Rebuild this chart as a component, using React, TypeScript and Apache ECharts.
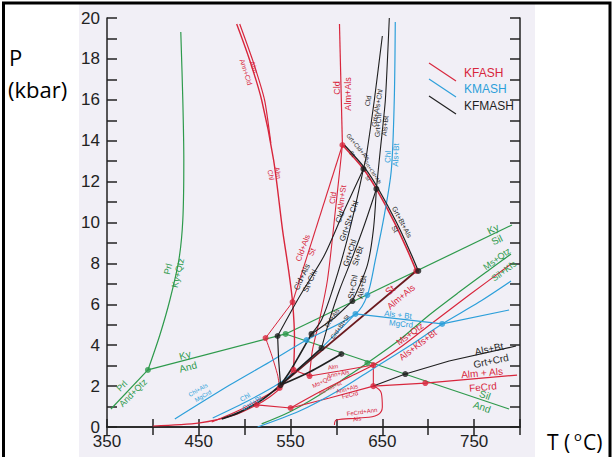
import React, { useEffect, useRef } from "react";
import * as echarts from "echarts";

// ---- axis ranges / ticks ----
const T_MIN = 350;
const T_MAX = 800;
const T_STEP = 50;
const P_MIN = 0;
const P_MAX = 20;
const P_STEP = 1;

// ---- GREEN (Al2SiO5, pyrophyllite, muscovite) [T °C, P kbar] ----
const prlKyQtz = [[430.4, 19.32], [432.6, 15.99], [433.7, 13.06], [432.6, 10.12], [428.3, 8.17], [418.5, 6.21], [407.6, 4.5], [394.6, 2.79]];
const prlAndQtz = [[394.6, 2.79], [354.3, 0.88]];
const kyAnd = [[394.6, 2.79], [544.6, 4.55]];
const kySil = [[544.6, 4.55], [791.3, 9.88]];
const silAnd = [[544.6, 4.55], [788.1, 0.88]];
const msQtzSilKfs = [[518.5, 0.15], [548.9, 0.73], [581.5, 1.56], [614.1, 2.54], [633.7, 3.13], [668.5, 4.25], [701.1, 5.48], [733.7, 6.6], [766.3, 7.68], [790.2, 8.46]];
const greenPoints = [[394.6, 2.79], [544.6, 4.55], [633.7, 3.13]];

// ---- RED (KFASH) ----
const almChl = [[491.3, 19.71], [505.4, 17.95], [518.5, 15.99], [531.5, 13.06], [541.3, 9.63], [547.8, 7.68], [552.2, 6.11], [554.3, 4.25], [553.3, 2.79]];
const almAnnCld = [[494.6, 19.71], [508.6, 17.95], [521.7, 15.99], [528.5, 13.89]];
const cldAlmAls = [[603.3, 19.71], [606.5, 13.79]];
const cldAlmSt = [[606.5, 13.79], [598.9, 10.61], [590.2, 7.19], [581.5, 5.23], [573.9, 3.77], [570.7, 2.49]];
const cldAlsSt = [[606.5, 13.79], [552.2, 6.11]];
const grtCldAlsSt = [[606.5, 13.79], [629.4, 12.62], [643.5, 11.64], [663.0, 10.02], [677.2, 8.66], [687.0, 7.63]];
const stAlmAls = [[687.0, 7.63], [539.1, 2.05]];
const redDiamondUp = [[522.8, 4.35], [552.2, 6.11]];
const redDiamondDown = [[522.8, 4.35], [529.4, 3.52], [535.9, 2.54], [538.1, 1.91]];
const almAnnAls = [[553.3, 2.79], [570.7, 2.49], [603.3, 2.74], [640.2, 3.03]];
const redVertical = [[640.2, 3.03], [640.2, 2.0]];
const almAlsFeCrd = [[513.0, 1.08], [550.0, 0.93], [592.4, 1.42], [640.2, 2.0], [696.8, 2.15], [796.8, 2.54]];
const feCrdAnnAls = [[640.2, 2.0], [648.9, 1.66], [650.0, 0.98], [644.6, 0.59], [625.0, 0.44], [600.0, 0.34], [597.8, 0.1]];
const msQtzAlsKfsBt = [[550.0, 0.93], [581.5, 1.71], [614.1, 2.45], [640.2, 3.03], [668.5, 3.86], [704.4, 5.09], [744.6, 6.45], [790.2, 7.97]];
const redLowA = [[400.0, 0.05], [451.1, 0.2], [489.1, 0.59], [513.0, 1.08], [527.2, 1.47], [539.1, 1.91], [553.3, 2.79]];
const redLowB = [[464.1, 0.24], [494.6, 0.83], [518.5, 1.42], [538.1, 1.91]];
const redPoints = [[606.5, 13.79], [552.2, 6.11], [522.8, 4.35], [687.0, 7.63], [553.3, 2.79], [570.7, 2.49], [538.1, 1.91], [513.0, 1.08], [550.0, 0.93], [640.2, 3.03], [640.2, 2.0], [696.8, 2.15]];

// ---- BLUE (KMASH) ----
const chlAlsBt = [[423.9, 0.39], [483.7, 2.05], [527.2, 3.18], [567.4, 4.25], [620.7, 5.53], [633.7, 6.45], [642.4, 8.17], [652.2, 10.37], [659.8, 12.57], [663.0, 15.99], [664.1, 19.8]];
const chlCrdBt = [[465.2, 0.44], [505.4, 1.32], [538.1, 2.15], [559.8, 2.89], [581.5, 3.77], [603.3, 4.74], [620.7, 5.53]];
const alsBtMgCrd = [[620.7, 5.53], [715.2, 5.04], [788.1, 5.72]];
const msQtzBlue = [[514.1, 0.0], [559.8, 0.78], [603.3, 1.81], [641.3, 2.89], [679.3, 3.96], [715.2, 5.04], [755.4, 6.11], [790.2, 7.14]];
const bluePoints = [[567.4, 4.25], [620.7, 5.53], [633.7, 6.45], [715.2, 5.04]];

// ---- BLACK (KFMASH) ----
const cldGrtAlsChl = [[650.0, 19.12], [641.3, 15.99], [632.6, 13.25], [629.4, 12.62]];
const grtChlAlsBt = [[657.6, 20.0], [653.3, 15.99], [647.8, 13.55], [643.5, 11.64]];
const grtCldAlsStK = [[608.7, 13.79], [631.6, 12.62], [645.7, 11.64], [665.2, 10.02], [679.4, 8.66], [689.2, 7.63]];
const cldAlsStChl = [[629.4, 12.62], [608.7, 10.61], [587.0, 8.41], [570.7, 7.19], [557.6, 6.21], [535.9, 4.45]];
const blackDrop = [[535.9, 4.45], [537.0, 3.28], [539.1, 2.05]];
const cldGrtStChl = [[629.4, 12.62], [619.6, 10.61], [608.7, 8.66], [595.7, 6.7], [583.7, 5.23], [572.8, 4.55]];
const grtChlStBt = [[643.5, 11.64], [630.4, 9.88], [616.3, 8.17], [603.3, 6.7], [592.4, 5.23], [583.7, 3.86]];
const stChlAlsBt = [[643.5, 11.64], [640.2, 9.63], [633.7, 7.92], [617.4, 6.16]];
const chlAlsCrdBtSt = [[617.4, 6.16], [597.8, 5.33], [572.8, 4.55]];
const blackLow1 = [[572.8, 4.55], [559.8, 3.52], [548.9, 2.69], [539.1, 2.05]];
const blackLow2 = [[583.7, 3.86], [559.8, 2.89], [539.1, 2.05]];
const blackLow3 = [[605.4, 3.57], [570.7, 2.69], [539.1, 2.05]];
const chlCrdBtK = [[539.1, 2.05], [518.5, 1.32], [494.6, 0.73], [475.0, 0.39]];
const alsBtGrtCrd = [[640.2, 2.0], [675.0, 2.59], [722.8, 3.23], [795.7, 3.96]];
const blackPoints = [[629.4, 12.62], [643.5, 11.64], [689.2, 7.63], [535.9, 4.45], [572.8, 4.55], [583.7, 3.86], [605.4, 3.57], [617.4, 6.16], [539.1, 2.05], [675.0, 2.59]];

// ---- legend entries ----
const legendNames = ["KFASH", "KMASH", "KFMASH"];

const GREEN = "#2e9a4c";
const RED = "#d8263c";
const BLUE = "#2c9fda";
const BLACK = "#1f1f1f";
const DARKRED = "#6a1a1e";

// annotation labels: text, x, y (px), rotation (deg), color, font size
const labels: [string, number, number, number, string, number][] = [
  ["Prl", 168, 269, 77, GREEN, 9], ["Ky+Qtz", 178, 273, 77, GREEN, 9],
  ["Ky", 185, 355, 15, GREEN, 10], ["And", 188, 367, 15, GREEN, 10],
  ["Prl", 122, 386, 45, GREEN, 9], ["And+Qtz", 133, 393, 45, GREEN, 9],
  ["Ky", 493, 229, 26, GREEN, 10], ["Sil", 497, 240, 26, GREEN, 10],
  ["Ms+Qtz", 497, 259, 36, GREEN, 9], ["Sil+Kfs", 504, 271, 36, GREEN, 9],
  ["Sil", 485, 395, -19, GREEN, 10], ["And", 482, 407, -19, GREEN, 10],
  ["Alm", 254, 67, -72, RED, 7], ["Ann+Cld", 246, 72, -72, RED, 7],
  ["Alm", 278, 173, -80, RED, 7], ["Chl", 271, 175, -80, RED, 7],
  ["Cld", 337, 88, 90, RED, 9], ["Alm+Als", 348, 94, 90, RED, 9],
  ["Cld", 333, 198, 82, RED, 8], ["Alm+St", 342, 198, 82, RED, 8],
  ["Cld+Als", 303, 248, 70, RED, 8], ["St", 312, 252, 70, RED, 8],
  ["St", 390, 290, 40, RED, 10], ["Alm+Als", 401, 297, 40, RED, 9],
  ["Ms+Qtz", 410, 334, 37, RED, 9], ["Als+Kfs+Bt", 418, 345, 37, RED, 9],
  ["Alm + Als", 482, 373, 5, RED, 10], ["FeCrd", 483, 387, 5, RED, 10],
  ["Alm", 333, 367, 10, RED, 6], ["Ann+Als", 338, 374, 10, RED, 6],
  ["Ms+Qtz", 322, 382, 25, RED, 6], ["Als+Kfs+Bt", 330, 388, 25, RED, 5],
  ["Ann+Als", 347, 389, 15, RED, 6], ["FeCrd", 350, 395, 15, RED, 6],
  ["FeCrd+Ann", 362, 412, 8, RED, 6], ["Als", 357, 419, 8, RED, 6],
  ["Chl", 388, 157, 88, BLUE, 8], ["Als+Bt", 396, 155, 88, BLUE, 8],
  ["Als + Bt", 398, 315, -6, BLUE, 8], ["MgCrd", 401, 324, -6, BLUE, 8],
  ["Chl+Als", 198, 390, 30, BLUE, 6], ["MgCrd", 203, 396, 30, BLUE, 6],
  ["Chl", 245, 397, 32, BLUE, 7], ["Crd+Bt", 252, 403, 32, BLUE, 7],
  ["Cld", 368, 101, 80, BLACK, 7], ["Grt+Als+Chl", 377, 108, 80, BLACK, 7],
  ["Grt+Chl", 378, 125, 85, BLACK, 7], ["Als+Bt", 385, 126, 85, BLACK, 7],
  ["Grt+Cld+Als", 358, 147, -50, BLACK, 6], ["St", 352, 154, -50, BLACK, 6],
  ["Grt+Cld+Als", 373, 172, -56, BLACK, 5], ["St", 368, 178, -56, BLACK, 5],
  ["Grt+Bt+Als", 402, 222, -62, BLACK, 7], ["St", 395, 229, -62, BLACK, 7],
  ["Cld", 340, 217, 70, BLACK, 8], ["Grt+St+ Chl", 349, 221, 70, BLACK, 8],
  ["Grt+Chl", 350, 253, 72, BLACK, 8], ["St+Bt", 358, 256, 72, BLACK, 8],
  ["Cld+Als", 302, 277, 65, BLACK, 8], ["St+Chl", 310, 281, 65, BLACK, 8],
  ["St+Chl", 353, 287, 80, BLACK, 8], ["Als+Bt", 362, 287, 80, BLACK, 8],
  ["Chl+Als", 332, 318, 55, BLACK, 6], ["Crd+Bt+St", 340, 327, 55, BLACK, 6],
  ["Als+Bt", 489, 349, 12, BLACK, 10], ["Grt+Crd", 491, 361, 12, BLACK, 10],
];

function App() {
  const ref = useRef<HTMLDivElement>(null);
  useEffect(() => {
    if (!ref.current) return;
    const chart = echarts.init(ref.current, undefined, { renderer: "svg" });
    const line = (data: number[][], color: string, width = 1.3, smooth: number | boolean = 0) => ({
      type: "line", data, showSymbol: false, symbol: "none", smooth, silent: true, z: 3,
      lineStyle: { color, width }, itemStyle: { color },
    });
    const dots = (data: number[][], color: string) => ({
      type: "scatter", data, symbolSize: 6, silent: true, z: 6, itemStyle: { color },
    });
    const series = [
      line(prlKyQtz, GREEN, 1.2, 0.3), line(prlAndQtz, GREEN, 1.2), line(kyAnd, GREEN, 1.2), line(kySil, GREEN, 1.2), line(silAnd, GREEN, 1.2),
      line(msQtzSilKfs, GREEN, 1.2, 0.3),
      line(almChl, RED, 1.4, 0.3), line(almAnnCld, RED, 1.2, 0.2), line(cldAlmAls, RED, 1.2), line(cldAlmSt, RED, 1.1, 0.3), line(cldAlsSt, RED, 1.1),
      line(grtCldAlsSt, RED, 1.6, 0.3), line(stAlmAls, DARKRED, 1.8), line(redDiamondUp, RED, 1), line(redDiamondDown, RED, 1, 0.2),
      line(almAnnAls, RED, 1.1), line(redVertical, RED, 1.1), line(almAlsFeCrd, RED, 1.2), line(feCrdAnnAls, RED, 1.1, 0.4),
      line(msQtzAlsKfsBt, RED, 1.2, 0.3), line(redLowA, RED, 1.2, 0.3), line(redLowB, RED, 1.1, 0.3),
      line(chlAlsBt, BLUE, 1.2, 0.3), line(chlCrdBt, BLUE, 1.1, 0.3), line(alsBtMgCrd, BLUE, 1.2), line(msQtzBlue, BLUE, 1.2, 0.3),
      line(cldGrtAlsChl, BLACK, 1.1, 0.2), line(grtChlAlsBt, BLACK, 1.1, 0.2), line(grtCldAlsStK, BLACK, 1.2, 0.3),
      line(cldAlsStChl, BLACK, 1.1, 0.3), line(blackDrop, BLACK, 1.2), line(cldGrtStChl, BLACK, 1.1, 0.3), line(grtChlStBt, BLACK, 1.1, 0.3),
      line(stChlAlsBt, BLACK, 1.1, 0.3), line(chlAlsCrdBtSt, BLACK, 1.1), line(blackLow1, BLACK, 1.6, 0.3), line(blackLow2, BLACK, 1.6, 0.3),
      line(blackLow3, BLACK, 1.6, 0.3), line(chlCrdBtK, BLACK, 1.8, 0.3), line(alsBtGrtCrd, BLACK, 1.1),
      dots(greenPoints, GREEN), dots(redPoints, RED), dots(bluePoints, BLUE), dots(blackPoints, BLACK),
    ];
    const legendColors = [RED, BLUE, BLACK];
    const graphic: any[] = [
      { type: "rect", z: -10, silent: true, shape: { x: 79, y: 4, width: 456, height: 453 }, style: { fill: "#f1eff6" } },
      { type: "polyline", z: 50, silent: true, shape: { points: [[3.5, 457], [3.5, 3], [610, 3], [610, 457]] }, style: { stroke: "#000", lineWidth: 3, fill: "none" } },
      { type: "text", z: 50, x: 9, y: 57, style: { text: "P", font: "22px 'Open Sans'", fill: "#000", verticalAlign: "middle" } },
      { type: "text", z: 50, x: 8, y: 89, style: { text: "(kbar)", font: "22px 'Open Sans'", fill: "#000", verticalAlign: "middle" } },
      { type: "text", z: 50, x: 547, y: 442, style: { text: "T (", font: "21px 'Open Sans'", fill: "#000", verticalAlign: "middle" } },
      { type: "text", z: 50, x: 574, y: 436, style: { text: "o", font: "13px 'Open Sans'", fill: "#000", verticalAlign: "middle" } },
      { type: "text", z: 50, x: 583, y: 442, style: { text: "C)", font: "21px 'Open Sans'", fill: "#000", verticalAlign: "middle" } },
    ];
    legendNames.forEach((name, i) => {
      const y = [73, 89, 106][i];
      graphic.push({ type: "line", z: 20, silent: true, shape: { x1: 429, y1: y - 10, x2: 456, y2: y + 8 }, style: { stroke: legendColors[i], lineWidth: 1.2 } });
      graphic.push({ type: "text", z: 20, x: 464, y, style: { text: name, font: "12px 'Liberation Sans'", fill: legendColors[i], verticalAlign: "middle" } });
    });
    labels.forEach(([text, x, y, deg, color, size]) => {
      graphic.push({
        type: "text", z: 20, silent: true, x, y, rotation: (deg * Math.PI) / 180,
        style: { text, font: `${size}px 'Liberation Sans'`, fill: color, align: "center", verticalAlign: "middle" },
      });
    });
    const axisCommon = {
      axisLine: { show: true, lineStyle: { color: "#222", width: 1.5 } },
      splitLine: { show: false },
    };
    chart.setOption({
      animation: false,
      backgroundColor: "#ffffff",
      grid: { left: 107, top: 18, width: 413, height: 409, containLabel: false },
      xAxis: [
        {
          type: "value", min: T_MIN, max: T_MAX, interval: T_STEP, position: "bottom", ...axisCommon,
          axisTick: { inside: true, length: 8, lineStyle: { color: "#222", width: 1.5 } },
          axisLabel: { formatter: (v: number) => (v % 100 === 50 ? String(v) : ""), color: "#222", fontSize: 17, fontFamily: "Liberation Sans", margin: 6 },
        },
        {
          type: "value", min: T_MIN, max: T_MAX, interval: T_STEP, position: "top", ...axisCommon,
          axisTick: { inside: true, length: 8, lineStyle: { color: "#222", width: 1.5 } },
          axisLabel: { show: false },
        },
      ],
      yAxis: [
        {
          type: "value", min: P_MIN, max: P_MAX, interval: P_STEP, position: "left", ...axisCommon,
          axisTick: { inside: true, length: 10, lineStyle: { color: "#222", width: 1.5 } },
          axisLabel: { formatter: (v: number) => (v % 2 === 0 ? String(v) : ""), color: "#222", fontSize: 17, fontFamily: "Liberation Sans", margin: 7 },
        },
        {
          type: "value", min: P_MIN, max: P_MAX, interval: P_STEP, position: "right", ...axisCommon,
          axisTick: { inside: true, length: 10, lineStyle: { color: "#222", width: 1.5 } },
          axisLabel: { show: false },
        },
      ],
      series,
      graphic,
    });
    return () => chart.dispose();
  }, []);
  return <div ref={ref} style={{ position: "fixed", left: 0, top: 0, width: 613, height: 457 }} />;
}

export default App;
